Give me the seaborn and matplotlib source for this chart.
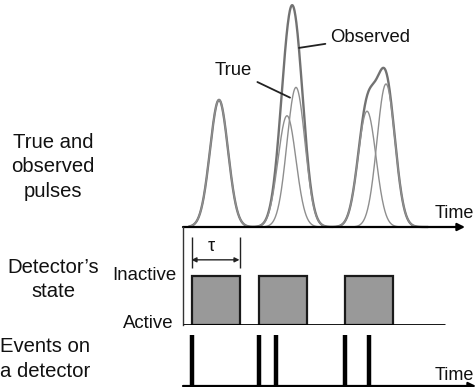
import numpy as np
import pandas as pd
import matplotlib
matplotlib.use("Agg")
import matplotlib.pyplot as plt
import seaborn as sns

# ---------------- data (time in arbitrary units) ----------------
pulse_centers = [3.6, 10.4, 11.3, 18.4, 20.3]
pulse_heights = [0.56, 0.49, 0.615, 0.51, 0.63]
pulse_width = 0.9
event_times = [0.9, 7.6, 9.3, 16.2, 18.6]
dead_starts = [0.85, 7.6, 16.15]
dead_time = 4.8
state_labels = ["Active", "Inactive"]
row_labels = [["True and", "observed", "pulses"],
              ["Detector\u2019s", "state"],
              ["Events on", "a detector"]]
curve_labels = ["True", "Observed"]
axis_label = "Time"

sns.set_theme(style="white")
plt.rcParams["font.family"] = ["Liberation Sans", "DejaVu Sans"]

W, H = 476, 387
fig = plt.figure(figsize=(W / 100, H / 100), dpi=100)
fig.patch.set_facecolor("white")


def fx(px):
    return px / W


def fy(py):
    return 1 - py / H


x0, x1 = 183, 476
ax_top = fig.add_axes([fx(x0), fy(227), fx(x1) - fx(x0), fy(0) - fy(227)])
ax_mid = fig.add_axes([fx(x0), fy(325), fx(x1) - fx(x0), fy(227) - fy(325)])
ax_bot = fig.add_axes([fx(x0), fy(386), fx(x1) - fx(x0), fy(335) - fy(386)])
XL = (0, 29.3)
for ax in (ax_top, ax_mid, ax_bot):
    ax.set_xlim(*XL)
    ax.set_facecolor("none")
    ax.set_xticks([])
    ax.set_yticks([])
    for s in ax.spines.values():
        s.set_visible(False)

# ---------------- top: pulses ----------------
t = np.linspace(0.6, 24.5, 800)
rows = []
obs = np.zeros_like(t)
for i, (c, h) in enumerate(zip(pulse_centers, pulse_heights)):
    y = h * np.exp(-0.5 * ((t - c) / pulse_width) ** 2)
    obs += y
    rows.append(pd.DataFrame({"t": t, "v": y, "pulse": f"p{i}"}))
df_true = pd.concat(rows)
df_obs = pd.DataFrame({"t": t, "v": obs})

ax_top.set_ylim(0, 1)
sns.lineplot(data=df_obs, x="t", y="v", ax=ax_top, color="#727272", lw=1.7,
             legend=False, clip_on=False)
sns.lineplot(data=df_true, x="t", y="v", units="pulse", estimator=None,
             ax=ax_top, color="#8e8e8e", lw=1.0, legend=False)
ax_top.set_xlabel("")
ax_top.set_ylabel("")
ax_top.annotate("", xy=(28.2, 0), xytext=(0, 0),
                arrowprops=dict(arrowstyle="-|>", color="black", lw=1.6,
                                mutation_scale=11, shrinkA=0, shrinkB=0),
                annotation_clip=False, zorder=5)
ax_top.text(25.2, 0.04, axis_label, fontsize=13.0, color="#111111",
            ha="left", va="baseline")

# leader labels
ax_top.annotate(curve_labels[0], xy=(10.7, 0.57), xytext=(5.0, 0.69),
                fontsize=13.3, color="#111111", ha="center", va="center",
                arrowprops=dict(arrowstyle="-", color="#222222", lw=1.3,
                                shrinkA=2, shrinkB=0))
ax_top.annotate(curve_labels[1], xy=(11.6, 0.789), xytext=(14.7, 0.837),
                fontsize=13.3, color="#111111", ha="left", va="center",
                arrowprops=dict(arrowstyle="-", color="#222222", lw=1.3,
                                shrinkA=1, shrinkB=0))

# ---------------- middle: detector state ----------------
ax_mid.set_ylim(0, 2)
ax_mid.spines["left"].set_visible(True)
ax_mid.spines["left"].set_color("#333333")
ax_mid.spines["left"].set_linewidth(1.0)
ax_mid.bar(dead_starts, [1] * len(dead_starts), width=dead_time, align="edge",
           color="#999999", edgecolor="#1a1a1a", linewidth=1.6, zorder=2)
ax_mid.plot([0, 26.2], [0, 0], color="black", lw=2.0, zorder=3,
            solid_capstyle="butt")
# tau marker
ta, tb = dead_starts[0], dead_starts[0] + dead_time
ax_mid.vlines([ta, tb], 1.16, 1.8, color="#222222", lw=1.0)
ax_mid.annotate("", xy=(tb, 1.33), xytext=(ta, 1.33),
                arrowprops=dict(arrowstyle="<|-|>", color="#222222", lw=1.0,
                                mutation_scale=7, shrinkA=0, shrinkB=0))
ax_mid.text((ta + tb) / 2 - 0.45, 1.6, "\u03c4", fontsize=13, ha="center",
            va="center", color="#111111")
ax_mid.text(-0.7, 1.0, state_labels[1], fontsize=13.4, ha="right",
            va="center", color="#111111")
ax_mid.text(-0.9, 0.04, state_labels[0], fontsize=13.4, ha="right",
            va="center", color="#111111")

# ---------------- bottom: events ----------------
ax_bot.set_ylim(0, 1)
ax_bot.vlines(event_times, 0, 1, color="black", lw=3.2)
ax_bot.annotate("", xy=(29.3, 0), xytext=(0, 0),
                arrowprops=dict(arrowstyle="-|>", color="black", lw=1.6,
                                mutation_scale=11, shrinkA=0, shrinkB=0),
                annotation_clip=False)
ax_bot.text(25.2, 0.12, axis_label, fontsize=13.0, color="#111111",
            ha="left", va="baseline")

# ---------------- left row labels ----------------
row_base = [[148, 172.5, 197], [273, 297], [352, 377]]
row_cx = [53, 53, 45]
for lines, bases, cx in zip(row_labels, row_base, row_cx):
    for txt, b in zip(lines, bases):
        fig.text(fx(cx), fy(b), txt, fontsize=14.6, ha="center",
                 va="baseline", color="#111111")

fig.savefig("out.png", dpi=100, facecolor="white")
